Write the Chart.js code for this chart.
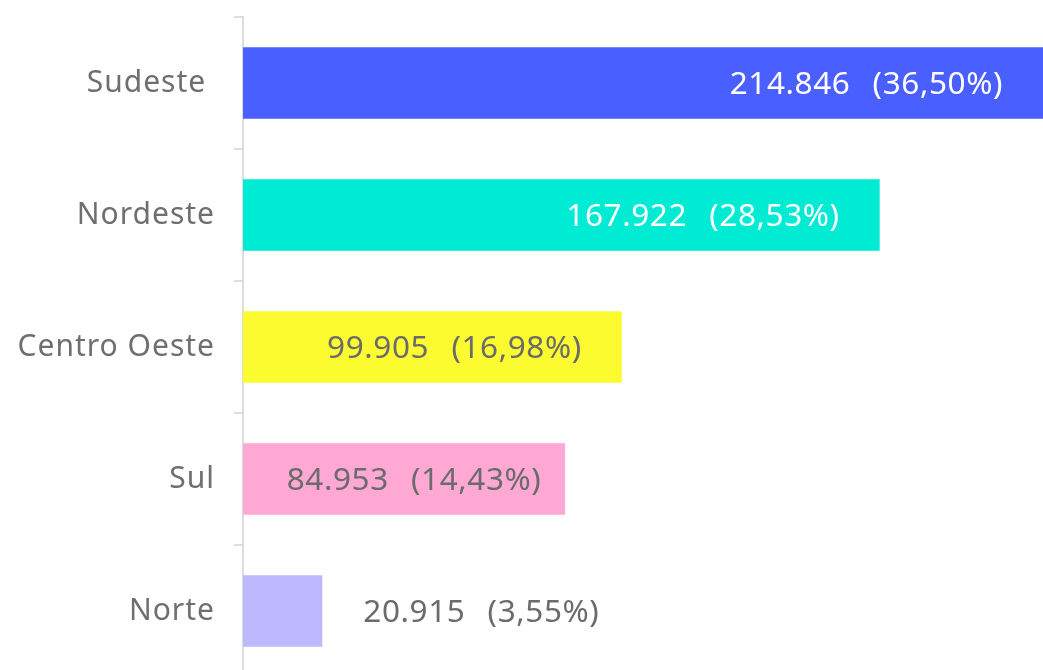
<!DOCTYPE html>
<html>
<head>
<meta charset="utf-8">
<script src="https://cdn.jsdelivr.net/npm/chart.js@4"></script>
<style>
  html, body { margin: 0; padding: 0; overflow: hidden; background: #fff; }
  #wrap { width: 1043px; height: 680px; }
</style>
</head>
<body>
<div id="wrap"><canvas id="chart"></canvas></div>
<script>
const regions = ["Sudeste ", "Nordeste", "Centro Oeste", "Sul", "Norte"];
const population = [214846, 167922, 99905, 84953, 20915];
const shares = ["36,50", "28,53", "16,98", "14,43", "3,55"];
const barColors = ["#4a5fff", "#00ebd4", "#fbfb30", "#ffa8d4", "#bdb8ff"];
const labelColors = ["#ffffff", "#ffffff", "#6b6b6b", "#6b6b6b", "#6b6b6b"];

const FONT = "'Noto Sans', sans-serif";
const TICK_SPACING = "1px";
const LABEL_SPACING = "0.6px";

function fmt(n) {
  return String(n).replace(/\B(?=(\d{3})+(?!\d))/g, ".");
}

// the reference text is a bit spaced out
const spacing = {
  id: "spacing",
  beforeInit(chart) { chart.ctx.letterSpacing = TICK_SPACING; },
  beforeUpdate(chart) { chart.ctx.letterSpacing = TICK_SPACING; },
  beforeDraw(chart) { chart.ctx.letterSpacing = TICK_SPACING; }
};

// value labels: pushed toward the bar end, or outside when the bar is too short
const valueLabels = {
  id: "valueLabels",
  afterDatasetsDraw(chart) {
    const ctx = chart.ctx;
    const area = chart.chartArea;
    const meta = chart.getDatasetMeta(0);
    ctx.save();
    ctx.letterSpacing = LABEL_SPACING;
    ctx.font = "31.5px " + FONT;
    ctx.textBaseline = "middle";
    ctx.textAlign = "left";
    meta.data.forEach((bar, i) => {
      const text = fmt(population[i]) + "\u2002\u2009(" + shares[i] + "%)";
      const w = ctx.measureText(text).width;
      const start = bar.base;
      const end = Math.min(bar.x, area.right);
      let left;
      if (w + 10 < end - start) {
        const center = Math.max((start + end) / 2 + 10, end - 40 - w / 2);
        left = center - w / 2;
      } else {
        left = end + 41;
      }
      ctx.fillStyle = labelColors[i];
      ctx.fillText(text, left, bar.y + 2);
    });
    ctx.restore();
  }
};

new Chart(document.getElementById("chart"), {
  type: "bar",
  data: {
    labels: regions,
    datasets: [{
      data: population,
      backgroundColor: barColors,
      borderWidth: 0,
      categoryPercentage: 0.54,
      barPercentage: 1
    }]
  },
  options: {
    indexAxis: "y",
    responsive: true,
    maintainAspectRatio: false,
    animation: false,
    layout: { padding: { top: 17, bottom: 3, left: 0, right: 0 } },
    plugins: {
      legend: { display: false },
      tooltip: { enabled: false }
    },
    scales: {
      x: {
        display: false,
        min: 0,
        max: 211000
      },
      y: {
        afterFit(scale) {
          scale.width = 243;
          scale.paddingTop = 0;
          scale.paddingBottom = 0;
        },
        grid: {
          drawOnChartArea: false,
          drawTicks: true,
          tickLength: 9,
          color: "#dddddd",
          lineWidth: 2
        },
        border: { display: true, color: "#dddddd", width: 2 },
        ticks: {
          color: "#6f6f6f",
          padding: 19,
          font: { family: FONT, size: 30 }
        }
      }
    }
  },
  plugins: [spacing, valueLabels]
});
</script>
</body>
</html>
